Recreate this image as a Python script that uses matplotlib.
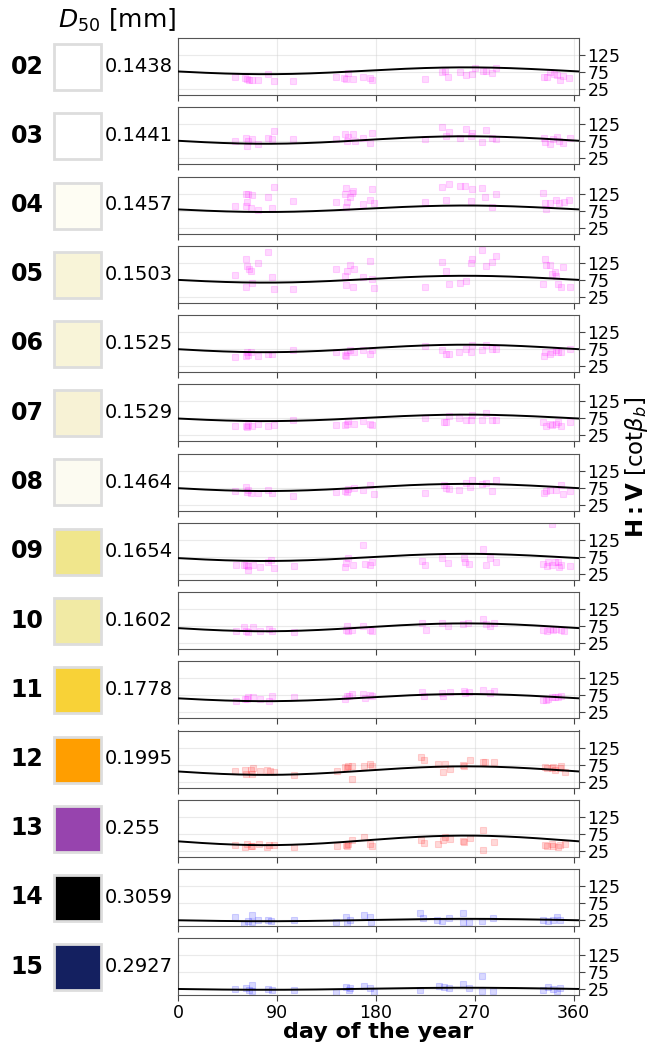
import numpy as np
import matplotlib.pyplot as plt
from matplotlib.patches import Rectangle

profiles = ['02', '03', '04', '05', '06', '07', '08', '09', '10', '11', '12', '13', '14', '15']
d50 = ['0.1438', '0.1441', '0.1457', '0.1503', '0.1525', '0.1529', '0.1464',
       '0.1654', '0.1602', '0.1778', '0.1995', '0.255', '0.3059', '0.2927']
swatch_colors = ['#ffffff', '#ffffff', '#fefdf3', '#f8f4d8', '#f8f4d8', '#f7f2d5', '#fcfbf1',
                 '#f0e68c', '#f1eaa4', '#f8d237', '#ff9e00', '#9744ae', '#000000', '#142060']
point_colors = ['magenta', 'magenta', 'magenta', 'magenta', 'magenta', 'magenta', 'magenta',
                'magenta', 'magenta', 'magenta', 'red', 'red', 'blue', 'blue']

# seasonal fit: mean + amp * cos(2*pi*(day - peak)/365)
fit_mean = [79, 79, 80.5, 77, 77, 76.5, 75.5, 73.5, 71.5, 68.5, 57.5, 56, 25.5, 27]
fit_amp = [10, 11, 9.5, 10, 11, 9.5, 10.5, 10.5, 11.5, 10.5, 12.5, 14, 3.5, 3]
fit_peak = [262, 262, 262, 262, 262, 262, 262, 262, 262, 262, 262, 262, 262, 262]

# observations (day of year, H:V)
obs_02 = [(52, 61), (61, 58), (63, 55), (65, 53), (67, 51), (73, 51), (82, 69), (87, 48), (105, 48),
          (144, 60), (151, 58), (153, 56), (155, 72), (159, 55), (168, 62), (175, 58), (177, 51),
          (225, 55), (240, 74), (243, 77), (246, 60), (257, 74), (262, 67), (268, 69), (270, 86),
          (278, 79), (280, 77), (286, 72), (289, 86), (333, 60), (336, 62), (339, 74), (342, 69),
          (345, 67), (348, 53), (350, 65), (356, 58)]
obs_03 = [(52, 76), (62, 86), (63, 61), (64, 76), (67, 83), (73, 68), (82, 86), (86, 81), (87, 106),
          (105, 82), (144, 82), (152, 98), (154, 76), (155, 89), (159, 96), (161, 76), (168, 85),
          (175, 71), (177, 101), (225, 82), (240, 117), (244, 91), (247, 102), (257, 86), (262, 110),
          (267, 91), (268, 101), (277, 72), (280, 107), (286, 86), (289, 82), (333, 86), (334, 74),
          (339, 68), (341, 83), (345, 89), (347, 76), (350, 71), (357, 84)]
obs_04 = [(52, 90), (62, 124), (62, 90), (63, 101), (64, 125), (66, 84), (67, 120), (73, 77), (82, 114),
          (86, 84), (87, 145), (105, 103), (144, 100), (152, 124), (153, 141), (153, 87), (154, 100),
          (157, 115), (158, 128), (159, 132), (168, 94), (175, 107), (177, 138), (178, 97), (225, 101),
          (240, 143), (244, 107), (247, 153), (257, 148), (261, 148), (267, 103), (268, 139), (277, 141),
          (279, 115), (286, 87), (289, 125), (332, 127), (334, 96), (335, 79), (339, 96), (344, 107),
          (347, 98), (351, 100), (356, 106)]
obs_05 = [(52, 89), (62, 135), (62, 55), (63, 115), (65, 107), (66, 102), (67, 65), (73, 124), (82, 156),
          (86, 82), (87, 48), (105, 48), (144, 108), (152, 87), (153, 61), (154, 100), (157, 120),
          (159, 55), (160, 106), (168, 82), (175, 130), (177, 77), (178, 50), (225, 53), (240, 127),
          (244, 102), (247, 62), (257, 67), (262, 72), (267, 125), (268, 137), (277, 162), (280, 115),
          (286, 128), (289, 146), (332, 62), (334, 135), (335, 118), (339, 118), (340, 92), (343, 98),
          (344, 87), (346, 62), (349, 53), (350, 114), (357, 53)]
obs_06 = [(52, 52), (62, 56), (63, 66), (64, 59), (66, 68), (73, 56), (82, 62), (86, 61), (105, 73),
          (144, 67), (152, 59), (153, 54), (154, 68), (157, 73), (160, 67), (168, 71), (175, 61),
          (177, 73), (225, 83), (240, 73), (244, 61), (247, 62), (256, 67), (262, 75), (267, 68),
          (268, 87), (277, 71), (280, 87), (286, 75), (289, 76), (333, 56), (334, 66), (339, 62),
          (340, 68), (344, 71), (346, 66), (349, 66), (357, 75)]
obs_07 = [(52, 52), (62, 52), (63, 50), (64, 55), (67, 52), (73, 58), (82, 53), (87, 57), (105, 71),
          (144, 55), (152, 57), (154, 58), (155, 66), (160, 60), (168, 66), (175, 60), (177, 57),
          (225, 77), (242, 63), (244, 64), (247, 81), (256, 77), (262, 71), (267, 69), (268, 84),
          (277, 69), (280, 90), (286, 69), (289, 69), (332, 63), (335, 53), (339, 58), (340, 55),
          (344, 60), (346, 63), (349, 53), (357, 63)]
obs_08 = [(52, 65), (62, 78), (63, 63), (64, 68), (66, 58), (73, 58), (82, 68), (86, 58), (105, 50),
          (144, 61), (152, 65), (154, 61), (155, 71), (160, 73), (168, 68), (175, 84), (178, 55),
          (225, 58), (242, 84), (244, 73), (247, 70), (256, 68), (262, 90), (266, 76), (268, 96),
          (277, 87), (280, 89), (286, 65), (289, 96), (333, 60), (335, 65), (339, 68), (344, 68),
          (349, 83), (350, 56), (357, 66)]
obs_09 = [(53, 50), (60, 50), (62, 52), (64, 49), (64, 38), (68, 52), (75, 45), (82, 60), (85, 67),
          (87, 42), (106, 47), (152, 44), (153, 57), (155, 71), (159, 50), (168, 111), (170, 54),
          (175, 52), (177, 60), (222, 63), (225, 52), (240, 73), (246, 58), (260, 71), (261, 61),
          (265, 54), (278, 97), (280, 52), (284, 71), (289, 60), (332, 54), (336, 47), (337, 60),
          (340, 52), (340, 172), (343, 61), (346, 61), (347, 45), (349, 52), (357, 47)]
obs_10 = [(53, 62), (60, 72), (62, 60), (64, 58), (68, 73), (75, 62), (83, 67), (86, 60), (106, 57),
          (153, 65), (154, 75), (155, 62), (158, 65), (168, 75), (175, 65), (177, 62), (222, 83),
          (226, 65), (240, 83), (246, 75), (259, 82), (264, 83), (278, 97), (280, 80), (284, 75),
          (288, 85), (332, 65), (336, 62), (339, 67), (341, 65), (344, 67), (349, 65), (351, 60)]
obs_11 = [(53, 60), (61, 63), (63, 65), (64, 71), (68, 71), (75, 65), (83, 60), (86, 72), (106, 69),
          (152, 65), (154, 72), (156, 74), (158, 79), (168, 79), (170, 66), (175, 77), (177, 72),
          (222, 85), (224, 74), (240, 83), (241, 72), (248, 86), (260, 89), (261, 83), (265, 85),
          (278, 91), (284, 83), (288, 89), (332, 62), (335, 62), (337, 65), (340, 69), (343, 69),
          (346, 71), (349, 74)]
obs_12 = [(52, 55), (61, 58), (62, 48), (66, 60), (67, 48), (68, 65), (75, 55), (81, 60), (84, 57),
          (87, 52), (106, 44), (145, 57), (152, 68), (154, 65), (155, 70), (158, 34), (158, 70),
          (169, 70), (175, 77), (177, 72), (221, 97), (224, 89), (237, 78), (241, 53), (243, 77),
          (248, 63), (259, 75), (260, 72), (266, 89), (278, 82), (279, 84), (288, 84), (334, 68),
          (336, 65), (340, 65), (341, 67), (343, 60), (348, 65), (349, 70), (352, 52)]
obs_13 = [(52, 42), (61, 36), (63, 44), (66, 39), (67, 39), (74, 46), (81, 36), (83, 42), (87, 42),
          (106, 37), (145, 39), (153, 42), (154, 39), (155, 46), (158, 58), (169, 66), (175, 44),
          (177, 39), (221, 58), (224, 48), (237, 46), (241, 58), (243, 66), (248, 60), (259, 53),
          (260, 51), (266, 63), (278, 86), (278, 29), (288, 51), (334, 42), (336, 39), (340, 46),
          (341, 39), (346, 37), (348, 42), (352, 44)]
obs_14 = [(52, 35), (60, 15), (64, 22), (67, 40), (67, 20), (73, 27), (82, 25), (85, 22), (106, 27),
          (144, 20), (153, 35), (154, 18), (157, 25), (169, 40), (175, 33), (176, 20), (220, 45),
          (223, 30), (236, 27), (240, 22), (247, 32), (259, 45), (259, 20), (265, 20), (277, 22),
          (287, 30), (332, 25), (337, 23), (341, 27), (345, 33), (348, 25)]
obs_15 = [(52, 25), (62, 28), (65, 23), (67, 38), (67, 20), (82, 25), (86, 23), (106, 23), (144, 18),
          (153, 31), (156, 23), (157, 28), (169, 35), (175, 28), (178, 18), (220, 23), (238, 35),
          (242, 33), (247, 28), (259, 41), (265, 30), (277, 64), (277, 20), (287, 20), (332, 23),
          (337, 31), (341, 25), (345, 20), (348, 28)]
observations = [obs_02, obs_03, obs_04, obs_05, obs_06, obs_07, obs_08,
                obs_09, obs_10, obs_11, obs_12, obs_13, obs_14, obs_15]

W, H = 648, 1046
fig = plt.figure(figsize=(W / 100, H / 100), dpi=100)

ax_left, ax_right = 178, 579
top0, step, ph = 38, 69.25, 57
days = np.arange(0, 366)

for i, name in enumerate(profiles):
    top = top0 + step * i
    ax = fig.add_axes([ax_left / W, 1 - (top + ph) / H, (ax_right - ax_left) / W, ph / H])
    d, v = zip(*observations[i])
    ax.scatter(d, v, marker='s', s=20, color=point_colors[i], alpha=0.15, lw=0.8, zorder=2)
    curve = fit_mean[i] + fit_amp[i] * np.cos(2 * np.pi * (days - fit_peak[i]) / 365)
    ax.plot(days, curve, color='black', lw=1.4, zorder=3)

    ax.set_xlim(0, 365)
    ax.set_ylim(8, 175)
    ax.set_xticks([0, 90, 180, 270, 360])
    ax.set_yticks([25, 75, 125])
    ax.yaxis.tick_right()
    ax.grid(True, color='#cccccc', alpha=0.4, lw=0.8)
    ax.tick_params(labelsize=12.5, length=4, color='#444444', pad=2)
    for sp in ax.spines.values():
        sp.set_color('#555555')
    if i < len(profiles) - 1:
        ax.tick_params(labelbottom=False)
    else:
        ax.set_xlabel('day of the year', fontsize=16, fontweight='bold', labelpad=0)

    yc = 1 - (top + ph / 2) / H
    fig.text(27 / W, yc, name, ha='center', va='center', fontsize=17, fontweight='bold')
    fig.add_artist(Rectangle((54 / W, 1 - (top + 52) / H), 47 / W, 46 / H,
                             transform=fig.transFigure, facecolor=swatch_colors[i],
                             edgecolor='#dddddd', lw=2))
    fig.text(105 / W, yc, d50[i], ha='left', va='center', fontsize=14)

fig.text(58 / W, 1 - 20 / H, r'$D_{50}$ [mm]', ha='left', va='center', fontsize=18)
fig.text(636 / W, 1 - 467 / H, r'$\mathbf{H{:}V}$ [cot$\beta_b$]', ha='center', va='center',
         rotation=90, fontsize=16.5)

fig.savefig('out.png', dpi=100)
